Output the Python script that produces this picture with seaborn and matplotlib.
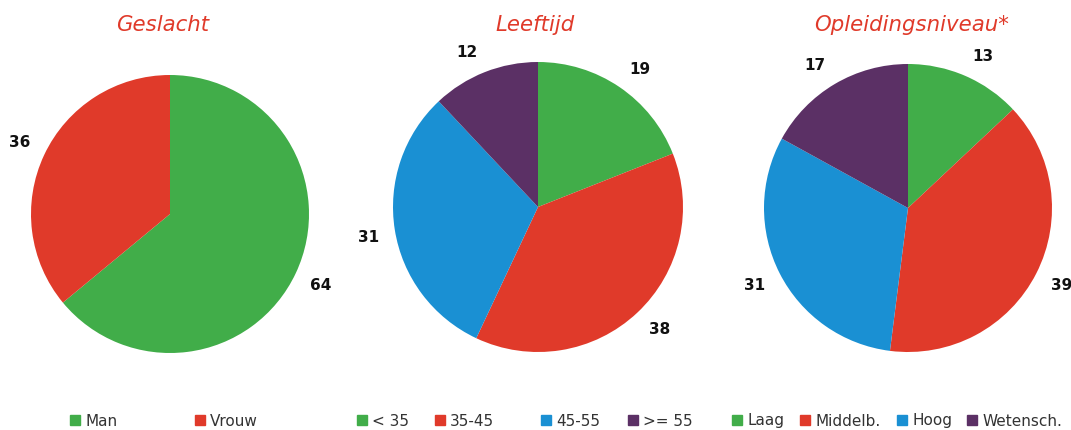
import numpy as np
import seaborn as sns
from matplotlib import pyplot as plt
from matplotlib.lines import Line2D

sns.set_style("white")
plt.rcParams["font.family"] = ["DejaVu Sans"]

# data
titles = ["Geslacht", "Leeftijd", "Opleidingsniveau*"]
geslacht_labels = ["Man", "Vrouw"]
geslacht_values = [64, 36]
leeftijd_labels = ["< 35", "35-45", "45-55", ">= 55"]
leeftijd_values = [19, 38, 31, 12]
opleiding_labels = ["Laag", "Middelb.", "Hoog", "Wetensch."]
opleiding_values = [13, 39, 31, 17]

palette = ["#41AD49", "#E03A2A", "#1A90D3", "#5B3065"]

W, H = 1071, 430
fig = plt.figure(figsize=(W / 100, H / 100), dpi=100)

# pixel centres / radii of the pies
pies = [
    (170, 214, 139, geslacht_labels, geslacht_values),
    (538, 207, 145, leeftijd_labels, leeftijd_values),
    (908, 208, 144, opleiding_labels, opleiding_values),
]
title_x = [163, 535, 912]
# x (pixels) of each legend marker
legend_marker_x = [[70, 195], [357, 435, 541, 628], [732, 800, 897, 967]]

for i, (cx, cy, r, labels, values) in enumerate(pies):
    ax = fig.add_axes([(cx - r) / W, 1 - (cy + r) / H, 2 * r / W, 2 * r / H])
    wedges, _ = ax.pie(values, colors=palette[:len(values)], startangle=90,
                       counterclock=False, wedgeprops=dict(linewidth=0))
    # labels outside, box pushed away from the circle (Excel style)
    for w, v in zip(wedges, values):
        ang = np.deg2rad((w.theta1 + w.theta2) / 2)
        c, s = np.cos(ang), np.sin(ang)
        ax.annotate(str(v), xy=(1.1 * c, 1.1 * s),
                    xytext=(12 * np.sign(c), 6 * np.sign(s)), textcoords="offset pixels",
                    ha="center", va="center", fontsize=11, fontweight="bold",
                    color="#111111", annotation_clip=False)
    ax.set_xlim(-1, 1)
    ax.set_ylim(-1, 1)
    ax.set_aspect("equal")
    ax.axis("off")

    fig.text(title_x[i] / W, 1 - 25 / H, titles[i], color="#E03A2A", fontsize=15.3,
             style="italic", ha="center", va="center")

    for k, lab in enumerate(labels):
        h = Line2D([], [], marker="s", linestyle="none", markersize=7, color=palette[k])
        fig.legend([h], [lab], loc="center left",
                   bbox_to_anchor=(legend_marker_x[i][k] / W, 1 - 421 / H),
                   frameon=False, fontsize=11, handlelength=0.7, handletextpad=0.3,
                   borderpad=0, borderaxespad=0, labelcolor="#333333")

fig.savefig("out.png", dpi=100)
